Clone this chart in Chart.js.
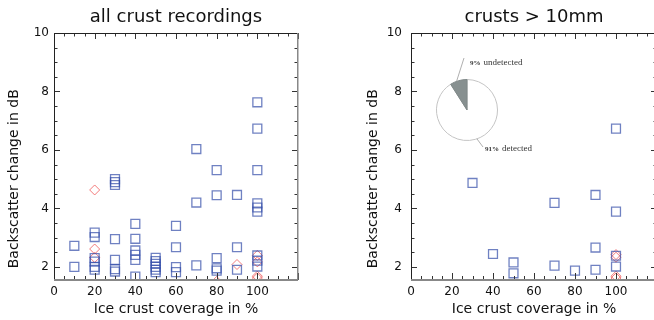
<!DOCTYPE html>
<html><head><meta charset="utf-8">
<script src="https://cdn.jsdelivr.net/npm/chart.js@4/dist/chart.umd.min.js"></script>
<style>
html,body{margin:0;padding:0;background:#fff;overflow:hidden;}
#wrap{position:relative;width:654px;height:320px;overflow:hidden;background:#fff;}
canvas{position:absolute;top:0;}
</style></head><body>
<div id="wrap">
<canvas id="left" width="352" height="320" style="left:0px"></canvas>
<canvas id="right" width="338" height="320" style="left:365px"></canvas>
<canvas id="pie" width="130" height="110" style="left:420px;top:50px"></canvas>
</div>
<script>
// ---- axis ticks ----
const xTicks = [0, 20, 40, 60, 80, 100, 120];
const xTickLabels = ['0', '20', '40', '60', '80', '100', ''];
const xMinorTicks = [5, 10, 15, 25, 30, 35, 45, 50, 55, 65, 70, 75, 85, 90, 95, 105, 110, 115];
const yTicks = [2, 4, 6, 8, 10];
const yTickLabels = ['2', '4', '6', '8', '10'];
const yMinorTicks = [2.5, 3, 3.5, 4.5, 5, 5.5, 6.5, 7, 7.5, 8.5, 9, 9.5];

// ---- titles ----
const leftTitle = 'all crust recordings';
const rightTitle = 'crusts > 10mm';
const xAxisTitle = 'Ice crust coverage in %';
const yAxisTitle = 'Backscatter change in dB';

// ---- left panel: all crust recordings ----
const leftSquareX = [10,10, 20,20,20,20,20,20, 30,30,30,30,30,30,30, 40,40,40,40,40,40, 50,50,50,50,50,50, 60,60,60,60, 70,70,70, 80,80,80,80,80, 90,90,90, 100,100,100,100,100,100,100,100,100];
const leftSquareY = [2.72,2.0, 3.17,3.02,2.3,2.18,2.0,1.9, 5.0,4.9,4.8,2.95,2.24,1.92,1.84, 3.47,2.96,2.56,2.41,2.24,1.67, 2.31,2.2,2.1,2.0,1.9,1.82, 3.4,2.67,1.99,1.82, 6.03,4.2,2.05, 5.31,4.45,2.3,1.95,1.87, 4.46,2.67,1.9, 7.63,6.73,5.31,4.17,4.03,3.89,2.39,2.21,2.01];
const leftDiamondX = [20, 20, 20, 80, 90, 100, 100, 100, 100];
const leftDiamondY = [4.63, 2.61, 2.32, 1.5, 2.08, 2.39, 2.17, 1.62, 1.68];

// ---- right panel: crusts > 10mm ----
const rightSquareX = [30, 40, 50, 50, 70, 70, 80, 90, 90, 90, 100, 100, 100, 100];
const rightSquareY = [4.87, 2.44, 2.15, 1.78, 4.19, 2.04, 1.87, 4.46, 2.66, 1.9, 6.73, 3.89, 2.38, 2.01];
const rightDiamondX = [100, 100, 100, 100];
const rightDiamondY = [2.33, 2.42, 1.62, 1.68];

// ---- inset pie ----
const pieLabels = ['detected', 'undetected'];
const pieValues = [91, 9];

const toPoints = (xs, ys) => xs.map((x, i) => ({ x: x, y: ys[i] }));

const framePlugin = {
  id: 'frame',
  afterDatasetsDraw(chart) {
    const ctx = chart.ctx;
    const { left, right, top, bottom } = chart.chartArea;
    const xs = chart.scales.x, ys = chart.scales.y;
    ctx.save();
    ctx.lineWidth = 1;
    ctx.strokeStyle = '#333';
    ctx.beginPath();
    xTicks.forEach(v => {
      const p = Math.round(xs.getPixelForValue(v)) + 0.5;
      ctx.moveTo(p, bottom); ctx.lineTo(p, bottom - 7);
      ctx.moveTo(p, top); ctx.lineTo(p, top + 6);
    });
    xMinorTicks.forEach(v => {
      const p = Math.round(xs.getPixelForValue(v)) + 0.5;
      ctx.moveTo(p, bottom); ctx.lineTo(p, bottom - 4);
      ctx.moveTo(p, top); ctx.lineTo(p, top + 3.5);
    });
    yTicks.forEach(v => {
      const p = Math.round(ys.getPixelForValue(v)) + 0.5;
      ctx.moveTo(left, p); ctx.lineTo(left + 6, p);
      ctx.moveTo(right, p); ctx.lineTo(right - 6, p);
    });
    yMinorTicks.forEach(v => {
      const p = Math.round(ys.getPixelForValue(v)) + 0.5;
      ctx.moveTo(left, p); ctx.lineTo(left + 3.5, p);
      ctx.moveTo(right, p); ctx.lineTo(right - 3.5, p);
    });
    ctx.stroke();
    // box
    ctx.strokeStyle = '#222';
    ctx.beginPath();
    ctx.moveTo(Math.round(left) + 0.5, Math.round(bottom));
    ctx.lineTo(Math.round(left) + 0.5, Math.round(top) + 0.5);
    ctx.lineTo(Math.round(right), Math.round(top) + 0.5);
    ctx.stroke();
    ctx.strokeStyle = '#888';
    ctx.lineWidth = 1.5;
    ctx.beginPath();
    ctx.moveTo(Math.round(right) - 0.25, Math.round(top));
    ctx.lineTo(Math.round(right) - 0.25, Math.round(bottom));
    ctx.stroke();
    ctx.lineWidth = 2;
    ctx.beginPath();
    ctx.moveTo(Math.round(left), Math.round(bottom));
    ctx.lineTo(Math.round(right), Math.round(bottom));
    ctx.stroke();
    ctx.restore();
  }
};

function makeScatter(id, title, sqX, sqY, dX, dY, cfg) {
  return new Chart(document.getElementById(id), {
    type: 'scatter',
    data: {
      datasets: [
        {
          label: 'squares',
          data: toPoints(sqX, sqY),
          pointStyle: 'rect',
          pointRadius: 6.3,
          backgroundColor: 'rgba(0,0,0,0)',
          borderColor: 'rgba(55,80,170,0.72)',
          borderWidth: 1.3
        },
        {
          label: 'diamonds',
          data: toPoints(dX, dY),
          pointStyle: 'rectRot',
          pointRadius: 5,
          backgroundColor: 'rgba(0,0,0,0)',
          borderColor: 'rgba(240,90,90,0.8)',
          borderWidth: 1
        }
      ]
    },
    options: {
      responsive: false,
      animation: false,
      events: [],
      layout: { padding: 0 },
      plugins: {
        legend: { display: false },
        tooltip: { enabled: false },
        title: {
          display: true,
          text: title,
          color: '#111',
          font: { family: 'DejaVu Sans', size: 18, weight: 'normal' },
          padding: { top: 7, bottom: 4.4 }
        }
      },
      scales: {
        x: {
          type: 'linear',
          min: 0, max: 120,
          grid: { display: false, drawTicks: false },
          border: { display: false },
          afterBuildTicks: s => { s.ticks = xTicks.map(v => ({ value: v })); },
          afterFit: s => { s.height = 40; },
          ticks: {
            padding: 5,
            color: '#111',
            maxRotation: 0,
            autoSkip: false,
            font: { family: 'DejaVu Sans', size: 12 },
            callback: v => xTickLabels[xTicks.indexOf(v)]
          },
          title: {
            display: true,
            text: xAxisTitle,
            color: '#111',
            font: { family: 'DejaVu Sans', size: 14 },
            padding: { top: 0, bottom: 2 }
          }
        },
        y: {
          type: 'linear',
          position: 'left',
          min: 1.55, max: 10,
          grid: { display: false, drawTicks: false },
          border: { display: false },
          afterBuildTicks: s => { s.ticks = yTicks.map(v => ({ value: v })); },
          afterFit: s => { s.width = cfg.yWidth; },
          ticks: {
            padding: cfg.tickPad,
            color: '#111',
            autoSkip: false,
            font: { family: 'DejaVu Sans', size: 12 },
            callback: v => yTickLabels[yTicks.indexOf(v)]
          },
          title: {
            display: true,
            text: yAxisTitle + '\u00a0'.repeat(10),
            color: '#111',
            font: { family: 'DejaVu Sans', size: 14 },
            padding: { top: cfg.yTitlePad, bottom: 0 }
          }
        },
        // empty spacer on the right so the title centres over the plot box
        ySpacer: {
          type: 'linear',
          position: 'right',
          display: true,
          grid: { display: false, drawTicks: false },
          border: { display: false },
          ticks: { display: false },
          title: { display: false },
          afterFit: s => { s.width = cfg.yWidth; }
        }
      }
    },
    plugins: [framePlugin]
  });
}

makeScatter('left', leftTitle, leftSquareX, leftSquareY, leftDiamondX, leftDiamondY,
  { yWidth: 54, tickPad: 5, yTitlePad: 6 });
makeScatter('right', rightTitle, rightSquareX, rightSquareY, rightDiamondX, rightDiamondY,
  { yWidth: 46, tickPad: 9, yTitlePad: 0 });

const pieLabelPlugin = {
  id: 'pieLabels',
  afterDraw(chart) {
    const arc = chart.getDatasetMeta(0).data[0];
    if (!arc) return;
    const cx = arc.x, cy = arc.y, r = arc.outerRadius;
    const ctx = chart.ctx;
    ctx.save();
    ctx.strokeStyle = '#9a9a9a';
    ctx.lineWidth = 0.8;
    const a1 = -110 * Math.PI / 180, a2 = 71 * Math.PI / 180;
    ctx.beginPath();
    ctx.moveTo(cx + r * Math.cos(a1), cy + r * Math.sin(a1));
    ctx.lineTo(cx - 3, cy - 52);
    ctx.moveTo(cx + r * Math.cos(a2), cy + r * Math.sin(a2));
    ctx.lineTo(cx + 16, cy + 37);
    ctx.stroke();
    ctx.fillStyle = '#333';
    ctx.textBaseline = 'middle';
    const drawLabel = (x, y, pct, word) => {
      ctx.font = 'bold 7px "Liberation Serif"';
      ctx.fillText(pct, x, y);
      const w = ctx.measureText(pct).width;
      ctx.font = '9px "Liberation Serif"';
      ctx.fillText(word, x + w + 3, y);
    };
    drawLabel(cx + 3, cy - 47, pieValues[1] + '%', pieLabels[1]);
    drawLabel(cx + 18, cy + 39, pieValues[0] + '%', pieLabels[0]);
    ctx.restore();
  }
};

new Chart(document.getElementById('pie'), {
  type: 'pie',
  data: {
    labels: pieLabels,
    datasets: [{
      data: pieValues,
      backgroundColor: ['rgba(255,255,255,0)', '#879090'],
      borderColor: ['#c4c4c4', '#7f8888'],
      borderWidth: 1
    }]
  },
  options: {
    responsive: false,
    animation: false,
    events: [],
    layout: { padding: { left: 16, right: 52, top: 29, bottom: 19 } },
    plugins: { legend: { display: false }, tooltip: { enabled: false }, title: { display: false } }
  },
  plugins: [pieLabelPlugin]
});
</script>
</body></html>
